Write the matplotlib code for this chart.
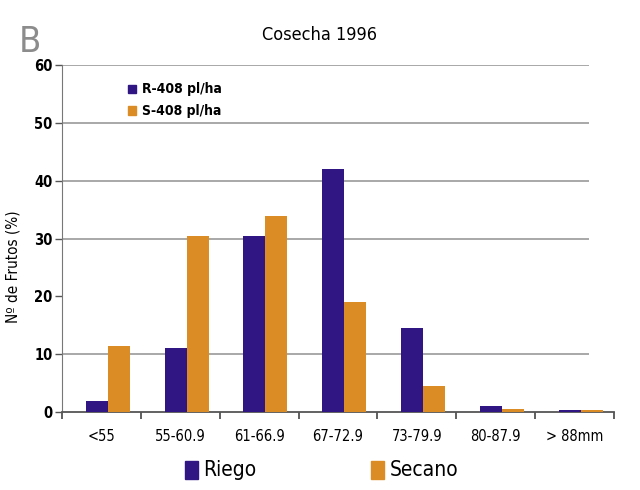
import matplotlib
matplotlib.use("Agg")
import matplotlib.pyplot as plt
from matplotlib.patches import Rectangle
import numpy as np

categories = ["<55", "55-60.9", "61-66.9", "67-72.9", "73-79.9", "80-87.9", "> 88mm"]
riego = [2.0, 11.0, 30.5, 42.0, 14.5, 1.0, 0.3]
secano = [11.5, 30.5, 34.0, 19.0, 4.5, 0.5, 0.3]
yticks = [0, 10, 20, 30, 40, 50, 60]
gridlines = [10, 30, 40, 50, 60]

PURPLE = "#2f1682"
ORANGE = "#dc8c25"

plt.rcParams["font.family"] = ["Liberation Sans Narrow", "DejaVu Sans"]
plt.rcParams["font.stretch"] = "condensed"

fig = plt.figure(figsize=(6.4, 4.9), dpi=100)
ax = fig.add_axes([0.097, 0.159, 0.862, 0.708])

x = np.arange(len(categories))
w = 0.28
shift = 0.08
ax.bar(x + shift - w / 2, riego, width=w, color=PURPLE, zorder=3)
ax.bar(x + shift + w / 2, secano, width=w, color=ORANGE, zorder=3)

ax.set_xlim(-0.5, 6.5)
ax.set_ylim(0, 60)
for g in gridlines:
    ax.plot([-0.5, 6.18], [g, g], color="#9a9a9a", lw=1.2, zorder=1,
            solid_capstyle="butt")

ax.set_yticks(yticks)
ax.set_yticklabels([str(v) for v in yticks], fontsize=10.5, fontweight="bold")
ax.set_xticks(x)
ax.set_xticklabels(categories, fontsize=10.5)
ax.tick_params(axis="x", length=0, pad=12)
ax.set_xticks(np.arange(-0.5, 7.0, 1.0), minor=True)
ax.tick_params(axis="x", which="minor", length=5, width=1.2, color="#444444")
ax.tick_params(axis="y", length=5, width=1, color="#555555", pad=2)

for s in ["top", "right"]:
    ax.spines[s].set_visible(False)
ax.spines["left"].set_color("#777777")
ax.spines["bottom"].set_color("#555555")
ax.spines["bottom"].set_linewidth(1.3)

ax.set_ylabel("Nº de Frutos (%)", fontsize=11)
ax.yaxis.set_label_coords(-0.075, 0.42)

# inner legend
fig.patches.append(Rectangle((0.200, 0.810), 0.013, 0.017, transform=fig.transFigure,
                             color=PURPLE))
fig.text(0.222, 0.818, "R-408 pl/ha", fontsize=10, va="center", fontweight="bold")
fig.patches.append(Rectangle((0.200, 0.766), 0.013, 0.017, transform=fig.transFigure,
                             color=ORANGE))
fig.text(0.222, 0.774, "S-408 pl/ha", fontsize=10, va="center", fontweight="bold")

# bottom legend
fig.patches.append(Rectangle((0.289, 0.022), 0.020, 0.037, transform=fig.transFigure,
                             color=PURPLE))
fig.text(0.318, 0.041, "Riego", fontsize=15, va="center")
fig.patches.append(Rectangle((0.580, 0.022), 0.020, 0.037, transform=fig.transFigure,
                             color=ORANGE))
fig.text(0.609, 0.041, "Secano", fontsize=15, va="center")

fig.text(0.500, 0.928, "Cosecha 1996", fontsize=13, ha="center", va="center")
fig.text(0.030, 0.915, "B", fontsize=26, color="#8c8c8c", ha="left", va="center")

fig.savefig("out.png", dpi=100)
